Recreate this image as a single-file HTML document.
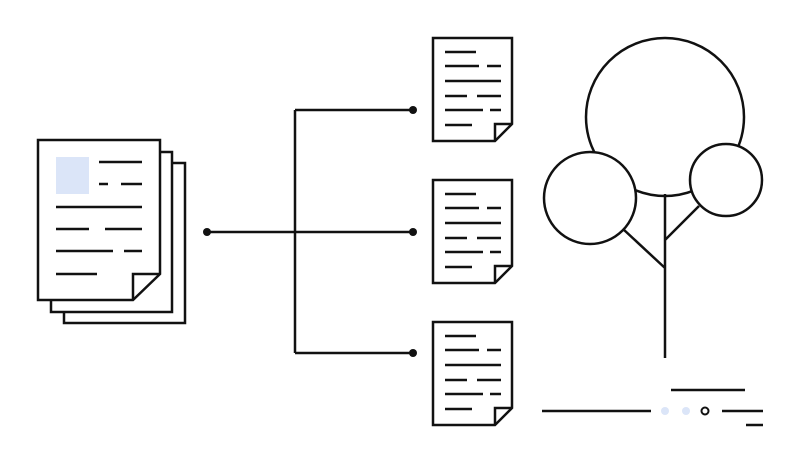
<!DOCTYPE html>
<html><head><style>html,body{margin:0;padding:0;background:#fff}</style></head><body>
<svg width="800" height="464" viewBox="0 0 800 464" xmlns="http://www.w3.org/2000/svg" fill="none" stroke="#111" stroke-width="2.5">
<rect x="64" y="163" width="121" height="160" fill="#fff"/>
<rect x="51" y="152" width="121" height="160" fill="#fff"/>
<path d="M38 140 H160 V274 L133 300 H38 Z" fill="#fff"/>
<path d="M160 274 H133 V300"/>
<rect x="56" y="157" width="33" height="37" fill="#dbe5f8" stroke="none"/>
<path d="M99 162H142M99 184H108M121 184H142M56 207H142M56 229H89M105 229H142M56 251H113M124 251H142M56 274H97"/>
<path d="M207 232H413M295 110V353M295 110H413M295 353H413"/>
<circle cx="207" cy="232" r="4" fill="#111" stroke="none"/>
<circle cx="413" cy="110" r="4" fill="#111" stroke="none"/>
<circle cx="413" cy="232" r="4" fill="#111" stroke="none"/>
<circle cx="413" cy="353" r="4" fill="#111" stroke="none"/>
<g id="d">
<path d="M433 38H512V124L495 141H433Z" fill="#fff"/>
<path d="M512 124H495V141"/>
<path d="M445 52H476M445 66H479M487 66H501M445 81H501M445 96H467M477 96H501M445 110H483M490 110H501M445 125H472"/>
</g>
<use href="#d" y="142"/>
<use href="#d" y="284"/>
<circle cx="665" cy="117" r="79"/>
<path d="M665 194V358M665 268L623 229M665 240L699 206"/>
<circle cx="590" cy="198" r="46" fill="#fff"/>
<circle cx="726" cy="180" r="36" fill="#fff"/>
<path d="M671 390H745M542 411H651M722 411H763M746 425H763"/>
<circle cx="665" cy="411" r="4" fill="#dbe5f8" stroke="none"/>
<circle cx="686" cy="411" r="4" fill="#dbe5f8" stroke="none"/>
<circle cx="705" cy="411" r="3.5" stroke-width="2"/>
</svg>
</body></html>
